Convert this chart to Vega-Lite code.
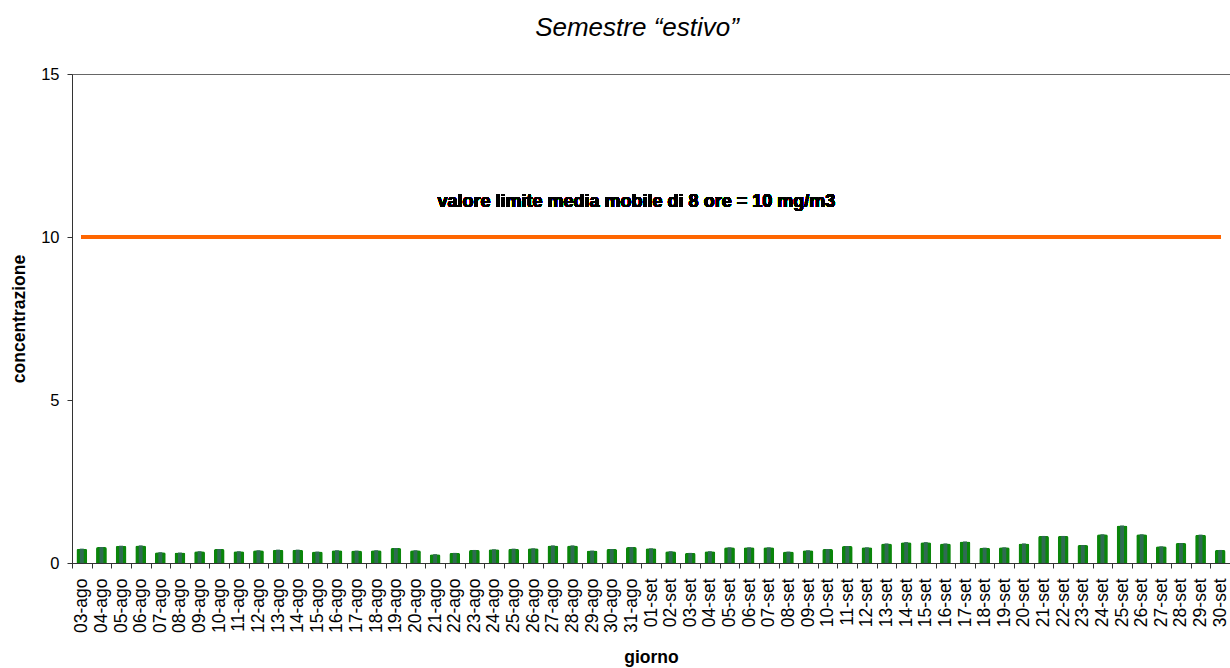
{
  "$schema": "https://vega.github.io/schema/vega-lite/v6.json",
  "width": 1158,
  "height": 489,
  "autosize": {"type": "none"},
  "padding": {"left": 72, "top": 74, "right": 0, "bottom": 105},
  "title": {"text": "Semestre “estivo”", "font": "Liberation Sans", "fontStyle": "italic", "fontWeight": "normal", "fontSize": 26, "offset": 25, "dx": -14, "color": "#000"},
  "config": {"view": {"stroke": "#666", "strokeWidth": 1}, "font": "Liberation Sans"},
  "data": {"values": [
    {"giorno": "03-ago", "valore": 0.44}, {"giorno": "04-ago", "valore": 0.49}, {"giorno": "05-ago", "valore": 0.53}, {"giorno": "06-ago", "valore": 0.54},
    {"giorno": "07-ago", "valore": 0.33}, {"giorno": "08-ago", "valore": 0.32}, {"giorno": "09-ago", "valore": 0.36}, {"giorno": "10-ago", "valore": 0.43},
    {"giorno": "11-ago", "valore": 0.36}, {"giorno": "12-ago", "valore": 0.39}, {"giorno": "13-ago", "valore": 0.41}, {"giorno": "14-ago", "valore": 0.41},
    {"giorno": "15-ago", "valore": 0.35}, {"giorno": "16-ago", "valore": 0.39}, {"giorno": "17-ago", "valore": 0.38}, {"giorno": "18-ago", "valore": 0.39},
    {"giorno": "19-ago", "valore": 0.46}, {"giorno": "20-ago", "valore": 0.39}, {"giorno": "21-ago", "valore": 0.27}, {"giorno": "22-ago", "valore": 0.31},
    {"giorno": "23-ago", "valore": 0.40}, {"giorno": "24-ago", "valore": 0.42}, {"giorno": "25-ago", "valore": 0.44}, {"giorno": "26-ago", "valore": 0.45},
    {"giorno": "27-ago", "valore": 0.54}, {"giorno": "28-ago", "valore": 0.54}, {"giorno": "29-ago", "valore": 0.38}, {"giorno": "30-ago", "valore": 0.43},
    {"giorno": "31-ago", "valore": 0.49}, {"giorno": "01-set", "valore": 0.45}, {"giorno": "02-set", "valore": 0.36}, {"giorno": "03-set", "valore": 0.31},
    {"giorno": "04-set", "valore": 0.36}, {"giorno": "05-set", "valore": 0.48}, {"giorno": "06-set", "valore": 0.48}, {"giorno": "07-set", "valore": 0.48},
    {"giorno": "08-set", "valore": 0.35}, {"giorno": "09-set", "valore": 0.39}, {"giorno": "10-set", "valore": 0.43}, {"giorno": "11-set", "valore": 0.52},
    {"giorno": "12-set", "valore": 0.48}, {"giorno": "13-set", "valore": 0.60}, {"giorno": "14-set", "valore": 0.64}, {"giorno": "15-set", "valore": 0.64},
    {"giorno": "16-set", "valore": 0.60}, {"giorno": "17-set", "valore": 0.66}, {"giorno": "18-set", "valore": 0.47}, {"giorno": "19-set", "valore": 0.48},
    {"giorno": "20-set", "valore": 0.60}, {"giorno": "21-set", "valore": 0.83}, {"giorno": "22-set", "valore": 0.83}, {"giorno": "23-set", "valore": 0.55},
    {"giorno": "24-set", "valore": 0.88}, {"giorno": "25-set", "valore": 1.15}, {"giorno": "26-set", "valore": 0.88}, {"giorno": "27-set", "valore": 0.51},
    {"giorno": "28-set", "valore": 0.61}, {"giorno": "29-set", "valore": 0.87}, {"giorno": "30-set", "valore": 0.40}
  ]},
  "layer": [
    {
      "mark": {"type": "bar", "color": "#0a850a", "width": {"band": 0.55}, "cornerRadiusTopLeft": 2, "cornerRadiusTopRight": 2},
      "encoding": {
        "x": {"field": "giorno", "type": "ordinal", "sort": null, "scale": {"paddingInner": 0, "paddingOuter": 0},
          "axis": {"title": "giorno", "titleFontSize": 17.5, "titleFontWeight": "bold", "titleColor": "#000", "titlePadding": 16,
            "labelAngle": -90, "labelAlign": "right", "labelBaseline": "middle", "labelFontSize": 17.5, "labelColor": "#000", "labelPadding": 10,
            "tickBand": "extent", "tickSize": 5, "tickColor": "#333", "domainColor": "#333", "labelOverlap": false}},
        "y": {"field": "valore", "type": "quantitative", "scale": {"domain": [0, 15], "nice": false, "zero": true},
          "axis": {"title": "concentrazione", "titleFontSize": 17.5, "titleFontWeight": "bold", "titleColor": "#000", "titlePadding": 12,
            "values": [0, 5, 10, 15], "grid": false, "labelFontSize": 16.5, "labelColor": "#000", "labelPadding": 8,
            "tickSize": 5, "tickColor": "#333", "domainColor": "#333"}}
      }
    },
    {
      "mark": {"type": "bar", "color": "#2f6b52", "width": {"band": 0.2}},
      "encoding": {
        "x": {"field": "giorno", "type": "ordinal", "sort": null},
        "y": {"field": "valore", "type": "quantitative", "scale": {"domain": [0, 15], "nice": false}}
      }
    },
    {
      "mark": {"type": "rule", "color": "#ff6600", "strokeWidth": 3},
      "encoding": {"y": {"datum": 10, "scale": {"domain": [0, 15], "nice": false}}, "x": {"datum": "03-ago"}, "x2": {"datum": "30-set"}}
    },
    {
      "mark": {"type": "text", "fontWeight": "bold", "fontSize": 18, "dx": 5, "color": "#000", "font": "Liberation Sans"},
      "encoding": {"x": {"datum": "31-ago"}, "y": {"datum": 11.07, "scale": {"domain": [0, 15], "nice": false}}, "text": {"value": "valore limite media mobile di 8 ore = 10 mg/m3"}}
    }
  ]
}
